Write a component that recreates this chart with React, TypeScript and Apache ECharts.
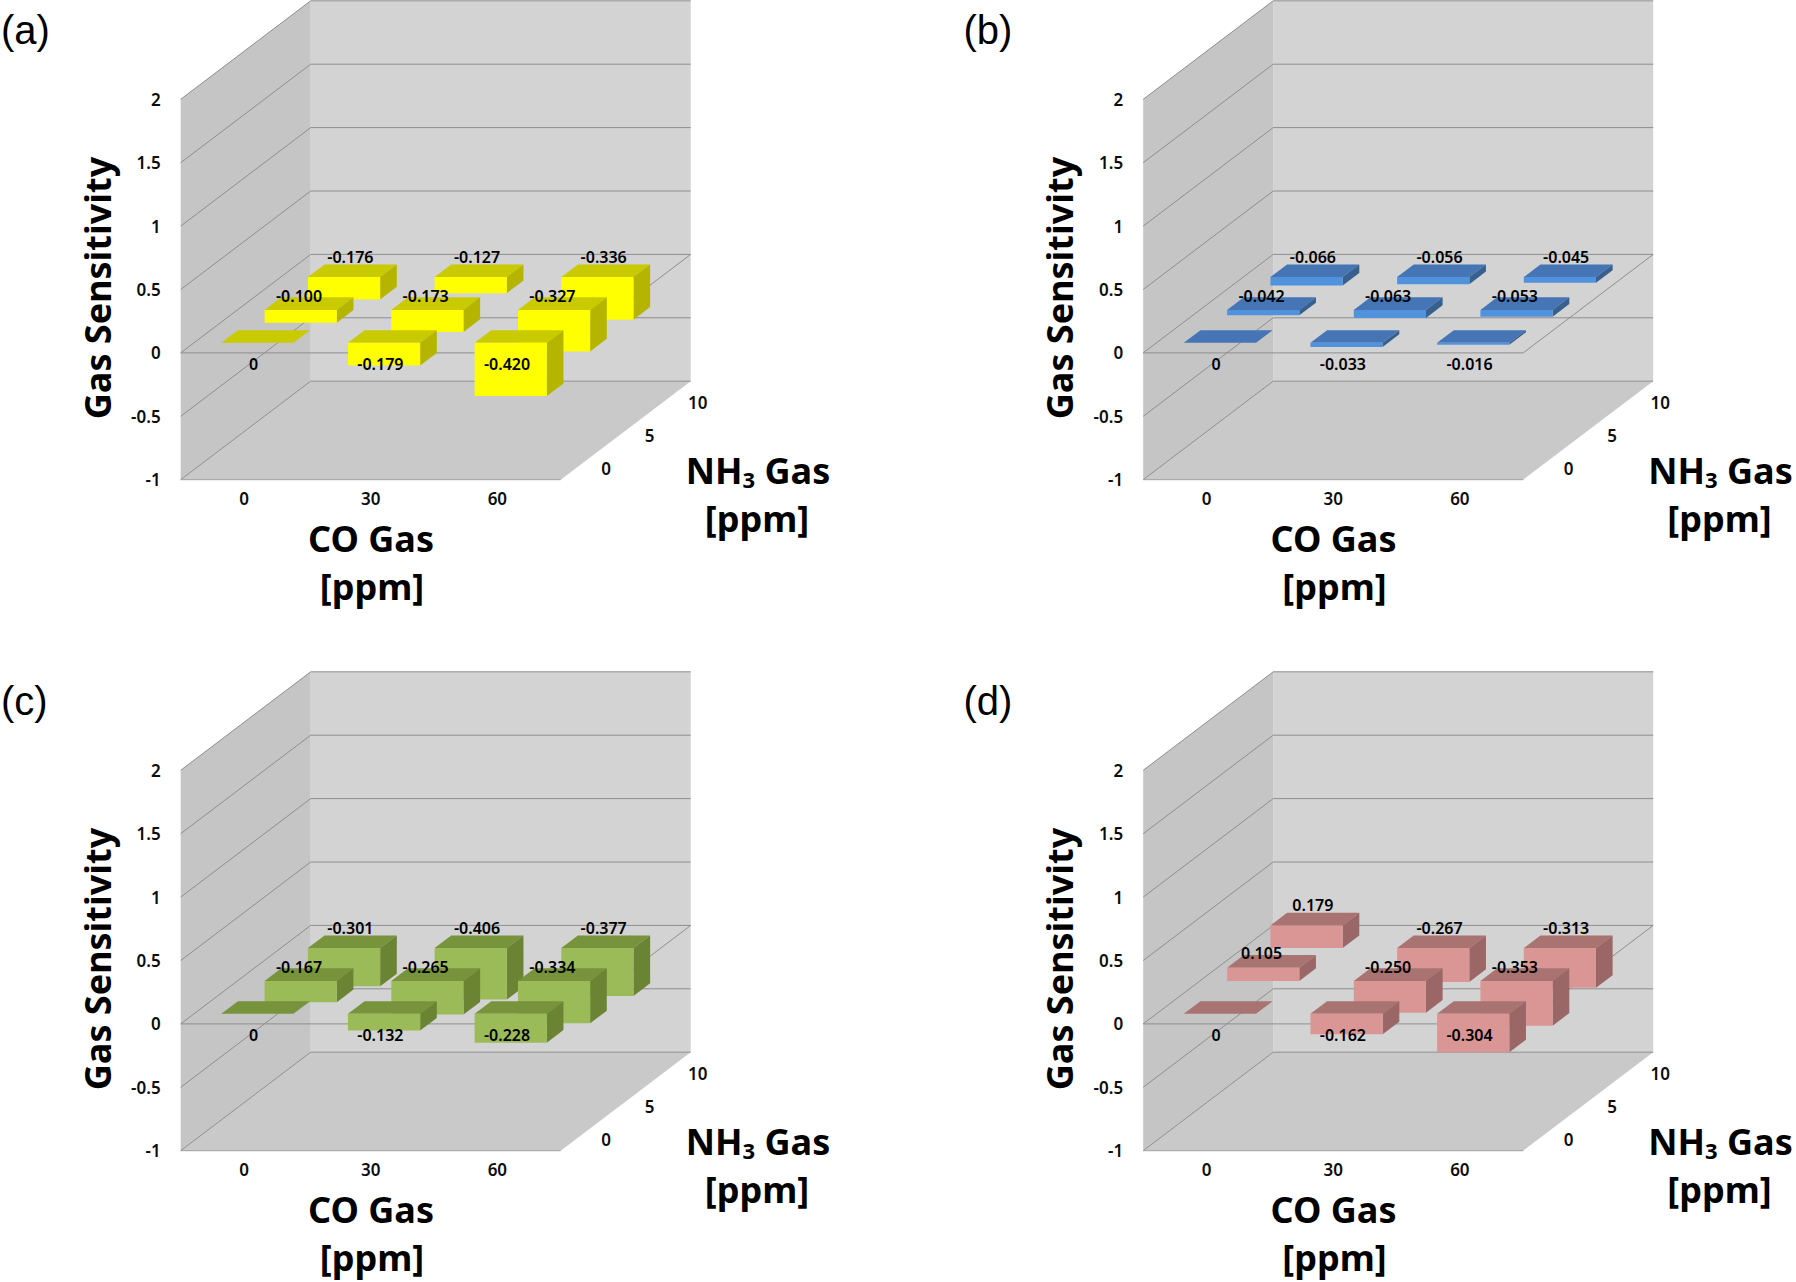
import React, { useEffect, useRef } from "react";
import * as echarts from "echarts";

// ---------- data ----------
const CO_LABELS = ["0", "30", "60"]; // CO gas [ppm]
const NH3_LABELS = ["0", "5", "10"]; // NH3 gas [ppm]
const Y_TICKS = [-1, -0.5, 0, 0.5, 1, 1.5, 2];
const PANEL_LETTERS = ["(a)", "(b)", "(c)", "(d)"];
// rows: NH3 = 0, 5, 10 ; columns: CO = 0, 30, 60
const SENS_A = [
  [0, -0.179, -0.42],
  [-0.1, -0.173, -0.327],
  [-0.176, -0.127, -0.336],
];
const SENS_B = [
  [0, -0.033, -0.016],
  [-0.042, -0.063, -0.053],
  [-0.066, -0.056, -0.045],
];
const SENS_C = [
  [0, -0.132, -0.228],
  [-0.167, -0.265, -0.334],
  [-0.301, -0.406, -0.377],
];
const SENS_D = [
  [0, -0.162, -0.304],
  [0.105, -0.25, -0.353],
  [0.179, -0.267, -0.313],
];
const PANEL_DATA = [SENS_A, SENS_B, SENS_C, SENS_D];

// ---------- styles / layout ----------
const FACES_A = ["#FFFF00", "#CACA00", "#B5B500"];
const FACES_B = ["#5092DC", "#4575B4", "#38608F"];
const FACES_C = ["#9BBB59", "#77933C", "#6A8434"];
const FACES_D = ["#DA9694", "#A87371", "#9A6766"];
const PANEL_FACES = [FACES_A, FACES_B, FACES_C, FACES_D];

const OFFSETS = [
  [0, 0],
  [962.5, 0],
  [0, 671],
  [962.5, 671],
];
const FRONT_LEFT = 180.7;
const FRONT_TOP = 99.3;
const FRONT_W = 380;
const FRONT_H = 380.4;
const DEPTH_X = 130 / 380;
const DEPTH_Y = -98.5 / 380;
const BAR_HALF_W = 0.285;
const BAR_HALF_D = 0.064;
const LABEL_DX = [-12, -10, -2];
const LABEL_DY = [28, -8, -14];

const BACK_WALL = "#D3D3D3";
const SIDE_WALL = "#C5C5C5";
const FLOOR = "#C9C9C9";
const GRID_LINE = "#8E8E8E";
const FLOOR_EDGE = "#A0A0A0";
const TICK_COLOR = "#0d0d0d";
const FONT = "'Noto Sans', 'Open Sans', 'DejaVu Sans', sans-serif";
const SMALL_WEIGHT = 600;

function projector(api: any) {
  const a = api.coord([0, 0]);
  const b = api.coord([CO_LABELS.length, 0]);
  const w = b[0] - a[0];
  return (x: number, v: number, d: number) => {
    const p = api.coord([x, v]);
    return [p[0] + d * DEPTH_X * w, p[1] + d * DEPTH_Y * w];
  };
}

function poly(points: number[][], fill: string, z2 = 0) {
  return { type: "polygon", z2, shape: { points }, style: { fill, stroke: null } };
}
function pline(points: number[][], stroke: string) {
  return { type: "polyline", shape: { points }, style: { stroke, lineWidth: 1, fill: "none" } };
}

function frameItem(_params: any, api: any) {
  const P = projector(api);
  const yMin = Y_TICKS[0];
  const yMax = Y_TICKS[Y_TICKS.length - 1];
  const xMax = CO_LABELS.length;
  const kids: any[] = [];
  kids.push(poly([P(0, yMax, 1), P(xMax, yMax, 1), P(xMax, yMin, 1), P(0, yMin, 1)], BACK_WALL));
  kids.push(poly([P(0, yMax, 0), P(0, yMax, 1), P(0, yMin, 1), P(0, yMin, 0)], SIDE_WALL));
  kids.push(poly([P(0, yMin, 0), P(xMax, yMin, 0), P(xMax, yMin, 1), P(0, yMin, 1)], FLOOR));
  Y_TICKS.forEach((t) => kids.push(pline([P(0, t, 0), P(0, t, 1), P(xMax, t, 1)], GRID_LINE)));
  kids.push(pline([P(0, 0, 0), P(xMax, 0, 0), P(xMax, 0, 1)], GRID_LINE));
  kids.push(pline([P(0, yMin, 0), P(xMax, yMin, 0)], FLOOR_EDGE));
  NH3_LABELS.forEach((lab, r) => {
    const p = P(xMax, yMin, (r + 0.5) / NH3_LABELS.length);
    kids.push({
      type: "text",
      x: p[0] + 19,
      y: p[1] + 5,
      style: {
        text: lab,
        fontSize: 17,
        fontWeight: SMALL_WEIGHT,
        fontFamily: FONT,
        fill: TICK_COLOR,
        align: "left",
        verticalAlign: "middle",
      },
    });
  });
  return { type: "group", children: kids };
}

function makeBarItem(faces: string[]) {
  return (_params: any, api: any) => {
    const P = projector(api);
    const c = api.value(0);
    const r = api.value(1);
    const v = api.value(2);
    const xc = c + 0.5;
    const x0 = xc - BAR_HALF_W;
    const x1 = xc + BAR_HALF_W;
    const dc = (r + 0.5) / NH3_LABELS.length;
    const d0 = dc - BAR_HALF_D;
    const d1 = dc + BAR_HALF_D;
    const top = Math.max(0, v);
    const bot = Math.min(0, v);
    const z = (NH3_LABELS.length - r) * 10 + c;
    return {
      type: "group",
      children: [
        poly([P(x0, top, d0), P(x1, top, d0), P(x1, top, d1), P(x0, top, d1)], faces[1], z),
        poly([P(x1, top, d0), P(x1, top, d1), P(x1, bot, d1), P(x1, bot, d0)], faces[2], z),
        poly([P(x0, top, d0), P(x1, top, d0), P(x1, bot, d0), P(x0, bot, d0)], faces[0], z),
      ],
    };
  };
}

function labelItem(_params: any, api: any) {
  const P = projector(api);
  const c = api.value(0);
  const r = api.value(1);
  const v = api.value(2);
  const p = P(c + 0.5, Math.max(0, v), (r + 0.5) / NH3_LABELS.length);
  return {
    type: "text",
    x: p[0] + LABEL_DX[r],
    y: p[1] + LABEL_DY[r],
    style: {
      text: v === 0 ? "0" : v.toFixed(3),
      fontSize: 16,
      fontWeight: SMALL_WEIGHT,
      fontFamily: FONT,
      fill: "#000",
      align: "center",
      verticalAlign: "middle",
    },
  };
}

function buildOption() {
  const grid: any[] = [];
  const xAxis: any[] = [];
  const yAxis: any[] = [];
  const series: any[] = [];
  const graphic: any[] = [];
  const axisLabelStyle = { fontSize: 17, fontWeight: SMALL_WEIGHT, fontFamily: FONT, color: TICK_COLOR };
  const titleStyle = { fontSize: 36, fontWeight: "bold", fontFamily: FONT, fill: "#000", lineHeight: 40 };

  OFFSETS.forEach(([ox, oy], i) => {
    grid.push({ left: ox + FRONT_LEFT, top: oy + FRONT_TOP, width: FRONT_W, height: FRONT_H });
    xAxis.push({
      type: "category",
      gridIndex: i,
      data: CO_LABELS,
      axisLine: { show: false },
      axisTick: { show: false },
      splitLine: { show: false },
      axisLabel: { ...axisLabelStyle, margin: 10 },
    });
    xAxis.push({ type: "value", gridIndex: i, min: 0, max: CO_LABELS.length, show: false });
    yAxis.push({
      type: "value",
      gridIndex: i,
      min: Y_TICKS[0],
      max: Y_TICKS[Y_TICKS.length - 1],
      interval: 0.5,
      axisLine: { show: false },
      axisTick: { show: false },
      splitLine: { show: false },
      axisLabel: { ...axisLabelStyle, margin: 20 },
    });

    const items: number[][] = [];
    const M = PANEL_DATA[i];
    for (let r = M.length - 1; r >= 0; r--) {
      for (let c = 0; c < M[r].length; c++) items.push([c, r, M[r][c]]);
    }
    const common = {
      type: "custom",
      coordinateSystem: "cartesian2d",
      xAxisIndex: 2 * i + 1,
      yAxisIndex: i,
      clip: false,
      silent: true,
      animation: false,
    };
    series.push({ ...common, z: 1, data: [[0, 0]], renderItem: frameItem });
    series.push({ ...common, z: 2, data: items, encode: { x: 0, y: 2 }, renderItem: makeBarItem(PANEL_FACES[i]) });
    series.push({ ...common, z: 3, data: items, encode: { x: 0, y: 2 }, renderItem: labelItem });

    graphic.push({
      type: "text",
      x: ox + 1,
      y: oy + 30,
      style: {
        text: PANEL_LETTERS[i],
        fontSize: 40,
        fontFamily: "'Liberation Sans', Arial, sans-serif",
        fill: "#000",
        align: "left",
        verticalAlign: "middle",
        lineHeight: 44,
      },
    });
    graphic.push({
      type: "text",
      x: ox + 97,
      y: oy + 288,
      rotation: Math.PI / 2,
      style: { ...titleStyle, text: "Gas Sensitivity", align: "center", verticalAlign: "middle" },
    });
    graphic.push({
      type: "text",
      x: ox + 371,
      y: oy + 538,
      style: { ...titleStyle, text: "CO Gas", align: "center", verticalAlign: "middle" },
    });
    graphic.push({
      type: "text",
      x: ox + 372,
      y: oy + 586,
      style: { ...titleStyle, text: "[ppm]", align: "center", verticalAlign: "middle" },
    });
    graphic.push({
      type: "text",
      x: ox + 758,
      y: oy + 470,
      style: {
        text: "{a|NH}{s|3}{a| Gas}",
        align: "center",
        verticalAlign: "middle",
        rich: {
          a: { fontSize: 36, fontWeight: "bold", fontFamily: FONT, fill: "#000", lineHeight: 40 },
          s: {
            fontSize: 22,
            fontWeight: "bold",
            fontFamily: FONT,
            fill: "#000",
            lineHeight: 16,
            verticalAlign: "bottom",
          },
        },
      },
    });
    graphic.push({
      type: "text",
      x: ox + 757,
      y: oy + 518,
      style: { ...titleStyle, text: "[ppm]", align: "center", verticalAlign: "middle" },
    });
  });

  return {
    animation: false,
    backgroundColor: "#ffffff",
    grid,
    xAxis,
    yAxis,
    series,
    graphic,
  };
}

export default function App() {
  const ref = useRef<HTMLDivElement>(null);
  useEffect(() => {
    if (!ref.current) return;
    const chart = echarts.init(ref.current, null, { renderer: "svg" });
    chart.setOption(buildOption() as any);
    return () => chart.dispose();
  }, []);
  return (
    <div
      ref={ref}
      style={{ position: "fixed", left: 0, top: 0, width: 1796, height: 1282, background: "#fff" }}
    />
  );
}
